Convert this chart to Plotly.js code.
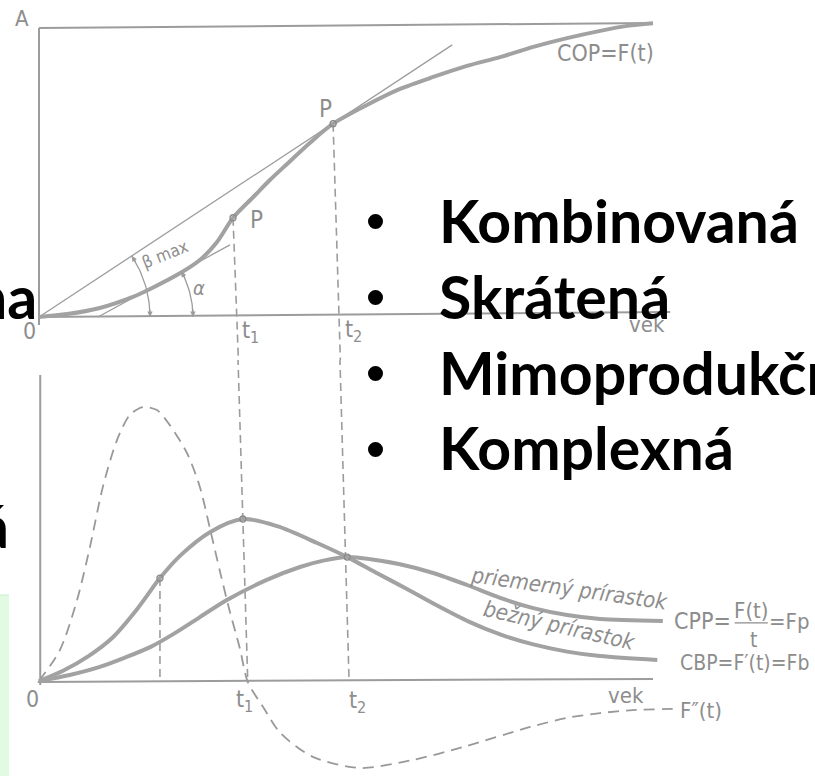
<!DOCTYPE html>
<html><head><meta charset="utf-8">
<script src="https://cdn.plot.ly/plotly-3.0.1.min.js"></script>
<style>html,body{margin:0;padding:0;background:#fff;overflow:hidden}</style>
</head><body><div id="chart" style="width:815px;height:776px"></div>
<script>
// ===== DATA (arbitrary units: age 0..100, top value A = 0..100) =====
// Top panel: cumulative growth COP = F(t)
const copAge = [0, 4.6, 9.9, 15.3, 18.1, 23.3, 26.2, 29.0, 31.6, 34.9, 37.6, 40.4, 44.1, 47.9, 53.4, 58.8, 64.2, 69.7, 75.1, 80.5, 86.0, 91.4, 95.8, 100];
const copVal = [0, 1.0, 3.1, 6.9, 9.6, 15.4, 19.5, 25.7, 34.0, 41.1, 46.9, 52.4, 59.6, 66.2, 72.6, 78.1, 82.2, 86.0, 89.0, 92.5, 95.5, 98.0, 99.7, 100.6];
const pointAge = [31.6, 47.9];            // P (inflection), P (tangent point)
const pointVal = [34.0, 66.2];
const tangentOriginAge = [0, 67.3];       // tangent from origin (beta max)
const tangentOriginVal = [0, 93.2];
const tangentAlphaAge = [9.6, 31.1];      // tangent (alpha)
const tangentAlphaVal = [0, 24.7];
const frameTopAge = [0, 0, null, 0, 100, null, 0, 102.8];
const frameTopVal = [-2.7, 99.0, null, 99.0, 100.7, null, 0, 1.7];
const dropTopAge = [31.6, 32.5, null, 47.9, 49.1];
const dropTopVal = [34.0, -16, null, 66.2, -16];

// Bottom panel: increments
const cbpAge = [0, 4, 8, 12, 16, 19.7, 23, 27.9, 33.2, 38.8, 45.3, 50.2, 55, 60, 65, 70, 75, 80.5, 86, 91.4, 100.7];
const cbpVal = [0, 3.5, 8.2, 14.5, 24.0, 34.3, 41.8, 49.7, 54.0, 51.6, 46.0, 41.3, 36.0, 30.6, 25.0, 19.8, 15.6, 12.2, 9.8, 8.3, 7.0];
const cppAge = [0, 5, 9.9, 14, 18.1, 22, 26.2, 30.6, 37.1, 42.5, 46.5, 50.2, 54, 58.8, 64.2, 69.7, 75.1, 80.5, 86.0, 91.4, 101.6];
const cppVal = [0, 2.0, 4.7, 7.8, 11.3, 15.8, 21.3, 27.0, 33.7, 38.0, 40.2, 41.3, 40.6, 38.9, 36.0, 32.0, 27.7, 24.3, 22.0, 20.7, 20.0];
const f2Age = [0, 3.4, 6.2, 8.3, 10.4, 12.7, 14.8, 16.9, 19.2, 21.3, 24.1, 26.2, 27.9, 29.5, 31.1, 32.7, 34.0, 36.5, 39.3, 44.6, 52.3, 60.9, 69.1, 80.0, 86.0, 91.4, 96.7, 103.9];
const f2Val = [0, 10.3, 27.0, 44.7, 64.7, 80.3, 88.7, 91.3, 90.3, 85.3, 76.0, 64.7, 50.3, 36.3, 23.0, 11.0, -0.3, -8.7, -17.3, -25.3, -29.0, -26.3, -22.0, -15.3, -12.3, -10.7, -9.7, -9.3];
const markAge = [19.7, 33.2, 50.2];
const markVal = [34.3, 54.0, 41.3];
const frameBotAge = [0.2, 0.2, null, -0.2, 100];
const frameBotVal = [102, -1.3, null, -0.3, 0.7];
const dropBotAge = [19.7, 19.7, null, 32.4, 34.0, null, 49.0, 50.5];
const dropBotVal = [34.3, 0, null, 108, 0, null, 108, 0];

// Slide text
const bullets = ["Kombinovaná", "Skrátená", "Mimoprodukčná", "Komplexná"];
const leftFragments = ["na", "á"];

// ===== LAYOUT GEOMETRY =====
const W = 815, H = 776;
const X0 = 39, XS = 6.14;        // px of age 0, px per age unit
const TY0 = 317, TYS = 2.92;     // top panel
const BY0 = 681, BYS = 3;        // bottom panel
const SPLIT = 360;
const px = v => v / W, py = v => 1 - v / H;

const GRAY = '#a2a2a2', THIN = '#9c9c9c', TXT = '#8d8d8d';
const LBL = 'DejaVu Sans Condensed, Liberation Sans Narrow, DejaVu Sans, sans-serif';

function arc(cx, cy, r, a1) {
  const xs = [], ys = [];
  for (let i = 0; i <= 24; i++) {
    const a = a1 * i / 24 * Math.PI / 180;
    xs.push(cx + r * Math.cos(a) / XS);
    ys.push(cy + r * Math.sin(a) / TYS);
  }
  return [xs, ys];
}
const betaArc = arc(0, 0, 111, 33.4);
const alphaArc = arc(9.6, 0, 95, 28.6);

const traces = [
  {x: frameTopAge, y: frameTopVal, xaxis: 'x', yaxis: 'y', mode: 'lines', line: {color: THIN, width: 2}},
  {x: tangentOriginAge, y: tangentOriginVal, xaxis: 'x', yaxis: 'y', mode: 'lines', line: {color: THIN, width: 1.3}},
  {x: tangentAlphaAge, y: tangentAlphaVal, xaxis: 'x', yaxis: 'y', mode: 'lines', line: {color: THIN, width: 1.3}},
  {x: betaArc[0], y: betaArc[1], xaxis: 'x', yaxis: 'y', mode: 'lines', line: {color: THIN, width: 1.3}},
  {x: alphaArc[0], y: alphaArc[1], xaxis: 'x', yaxis: 'y', mode: 'lines', line: {color: THIN, width: 1.3}},
  {x: dropTopAge, y: dropTopVal, xaxis: 'x', yaxis: 'y', mode: 'lines', line: {color: THIN, width: 1.6, dash: '8px,5px'}},
  {x: copAge, y: copVal, xaxis: 'x', yaxis: 'y', mode: 'lines', line: {color: GRAY, width: 4, shape: 'spline', smoothing: 0.8}},
  {x: pointAge, y: pointVal, xaxis: 'x', yaxis: 'y', mode: 'markers', cliponaxis: false,
   marker: {symbol: 'circle-open', size: 6, color: '#8a8a8a', line: {width: 1.3}}},

  {x: frameBotAge, y: frameBotVal, xaxis: 'x', yaxis: 'y2', mode: 'lines', line: {color: THIN, width: 2}},
  {x: dropBotAge, y: dropBotVal, xaxis: 'x', yaxis: 'y2', mode: 'lines', line: {color: THIN, width: 1.6, dash: '8px,5px'}},
  {x: f2Age, y: f2Val, xaxis: 'x', yaxis: 'y2', mode: 'lines', line: {color: '#999', width: 1.8, dash: '11px,7px', shape: 'spline', smoothing: 0.8}},
  {x: cppAge, y: cppVal, xaxis: 'x', yaxis: 'y2', mode: 'lines', line: {color: GRAY, width: 4, shape: 'spline', smoothing: 0.8}},
  {x: cbpAge, y: cbpVal, xaxis: 'x', yaxis: 'y2', mode: 'lines', line: {color: GRAY, width: 4, shape: 'spline', smoothing: 0.8}},
  {x: markAge, y: markVal, xaxis: 'x', yaxis: 'y2', mode: 'markers',
   marker: {symbol: 'circle-open', size: 6, color: '#8a8a8a', line: {width: 1.3}}}
];

function lbl(text, x, y, yref, size, opts) {
  return Object.assign({text, x, y, xref: 'x', yref, showarrow: false,
    font: {family: LBL, size, color: TXT}}, opts || {});
}
const ital = size => ({family: LBL, size, color: TXT, style: 'italic'});
const ann = [
  lbl('A', -2.8, 102.2, 'y', 22),
  lbl('0', -1.6, -4.8, 'y', 23),
  lbl('t<sub>1</sub>', 34.4, -5.3, 'y', 23),
  lbl('t<sub>2</sub>', 51.3, -4.8, 'y', 23),
  lbl('vek', 99.0, -2.6, 'y', 22),
  lbl('P', 46.6, 71.2, 'y', 24),
  lbl('P', 35.4, 33.2, 'y', 24),
  lbl('COP=F(t)', 92.2, 90.4, 'y', 23),
  lbl('β max', 20.6, 21.6, 'y', 17, {textangle: -22}),
  lbl('α', 26.1, 9.9, 'y', 20, {font: ital(20)}),

  lbl('0', -1.1, -5.9, 'y2', 23),
  lbl('t<sub>1</sub>', 33.4, -6.7, 'y2', 23),
  lbl('t<sub>2</sub>', 51.8, -7.0, 'y2', 23),
  lbl('vek', 95.6, -4.7, 'y2', 22),
  lbl('F″(t)', 104.0, -9.8, 'y2', 22, {xanchor: 'left'}),
  lbl('priemerný prírastok', 86.4, 31.0, 'y2', 22, {textangle: 8, font: ital(22)}),
  lbl('bežný prírastok', 84.7, 18.4, 'y2', 22, {textangle: 13, font: ital(22)}),
  lbl('CPP=', 113.0, 20.0, 'y2', 23, {xanchor: 'right'}),
  lbl('F(t)', 116.0, 23.6, 'y2', 22),
  lbl('t', 116.3, 13.6, 'y2', 21),
  lbl('=Fp', 118.5, 20.0, 'y2', 22, {xanchor: 'left'}),
  lbl('CBP=F′(t)=Fb', 104.0, 6.0, 'y2', 21, {xanchor: 'left'})
];

// arrowheads of the angle arcs
function arrowAt(x, y, ax, ay) {
  return {x, y, xref: 'x', yref: 'y', text: '', showarrow: true, arrowhead: 2, arrowsize: 0.9,
          arrowwidth: 1.2, arrowcolor: THIN, ax, ay, standoff: 0};
}
ann.push(arrowAt(111 / XS, 0, 0, -9));
ann.push(arrowAt(111 * Math.cos(33.4 * Math.PI / 180) / XS, 111 * Math.sin(33.4 * Math.PI / 180) / TYS, 5, 7.5));
ann.push(arrowAt(9.6 + 95 / XS, 0, 0, -9));
ann.push(arrowAt(9.6 + 95 * Math.cos(28.6 * Math.PI / 180) / XS, 95 * Math.sin(28.6 * Math.PI / 180) / TYS, 4.3, 7.9));

// slide text overlay
const SF = {family: 'Lato, Open Sans, sans-serif', size: 59, color: '#000', weight: 700};
const shapes = [];
bullets.forEach((b, i) => {
  const base = 241 + i * 76;
  ann.push({text: b, x: px(437), y: py(base - 21), xref: 'paper', yref: 'paper', xanchor: 'left', yanchor: 'middle',
            showarrow: false, font: SF});
  shapes.push({type: 'circle', xref: 'paper', yref: 'paper', x0: px(368), x1: px(383), y0: py(base - 12), y1: py(base - 27),
               fillcolor: '#000', line: {width: 0}});
});
ann.push({text: leftFragments[0], x: px(39), y: py(317 - 21), xref: 'paper', yref: 'paper', xanchor: 'right', yanchor: 'middle', showarrow: false, font: SF});
ann.push({text: leftFragments[1], x: px(11), y: py(546 - 21), xref: 'paper', yref: 'paper', xanchor: 'right', yanchor: 'middle', showarrow: false, font: SF});

shapes.push({type: 'rect', xref: 'paper', yref: 'paper', x0: 0, x1: px(9), y0: 0, y1: py(595), fillcolor: '#e2fae2', line: {width: 0}, layer: 'below'});
shapes.push({type: 'line', xref: 'paper', yref: 'paper', x0: 0, x1: px(9), y0: py(595), y1: py(595), line: {color: '#cdeecd', width: 1}, layer: 'below'});
// fraction bar for CPP = F(t)/t
shapes.push({type: 'line', xref: 'x', yref: 'y2', x0: 113.3, x1: 118.7, y0: 19.4, y1: 19.4, line: {color: TXT, width: 1.3}});

const layout = {
  width: W, height: H, margin: {l: 0, r: 0, t: 0, b: 0},
  paper_bgcolor: '#fff', plot_bgcolor: 'rgba(0,0,0,0)', showlegend: false,
  xaxis: {domain: [0, 1], range: [-X0 / XS, (W - X0) / XS], visible: false, fixedrange: true},
  yaxis: {domain: [1 - SPLIT / H, 1], range: [(TY0 - SPLIT) / TYS, TY0 / TYS], visible: false, fixedrange: true},
  yaxis2: {domain: [0, 1 - SPLIT / H], range: [(BY0 - H) / BYS, (BY0 - SPLIT) / BYS], visible: false, fixedrange: true, anchor: 'x'},
  annotations: ann, shapes: shapes
};
Plotly.newPlot('chart', traces, layout, {staticPlot: true, displayModeBar: false});
</script></body></html>
